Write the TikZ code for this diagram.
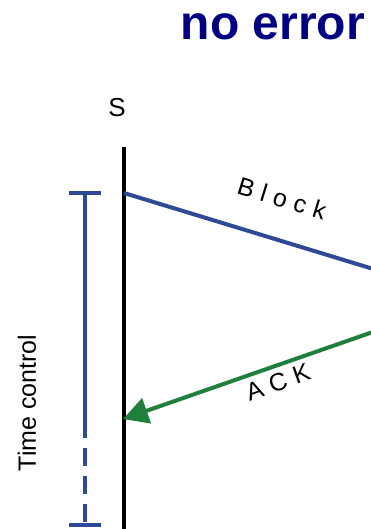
\documentclass[tikz,border=0pt]{standalone}
\usepackage{fontspec}
\setmainfont{Liberation Sans}
\usepackage{xcolor}
\usetikzlibrary{arrows.meta,positioning}
\definecolor{titlenavy}{RGB}{0,0,128}
\definecolor{blockblue}{RGB}{47,74,148}
\definecolor{ackgreen}{RGB}{30,128,60}
\tikzset{
  lifeline/.style={line width=4.8pt, black},
  blockline/.style={line width=4pt, blockblue},
  ackline/.style={line width=4pt, ackgreen, -{Triangle[length=25pt,width=26pt]}},
  timebar/.style={line width=4pt, blockblue},
  msglabel/.style={font=\fontsize{25}{27}\selectfont\addfontfeature{LetterSpace=30}, inner sep=0pt}
}

\begin{document}
\begin{tikzpicture}[x=1pt,y=-1pt]
  \useasboundingbox (0,0) rectangle (370,529);
  \node[font=\fontsize{48}{50}\selectfont\bfseries, text=titlenavy, anchor=base, inner sep=0pt] (title) at (273,40) {no error};
  \node[font=\fontsize{26}{28}\selectfont, inner sep=0pt] (sender) at (117,108) {S};
  % sender line
  \coordinate (stop) at (124,147);
  \coordinate (sbot) at (124,531);
  \draw[lifeline] (stop) -- (sbot);
  % block and ack
  \coordinate (bstart) at (124,193);
  \coordinate (bend) at (372,268.6);
  \coordinate (astart) at (372,332.3);
  \coordinate (aend) at (123,419);
  \draw[blockline] (bstart) -- (bend);
  \draw[ackline] (astart) -- (aend);
  \node[msglabel, rotate=-17] (blocklbl) at (282,198) {Block};
  \node[msglabel, rotate=19.5] (acklbl) at (278,382) {ACK};
  % time control
  \coordinate (ttop) at (85,193);
  \coordinate (tmid) at (85,438);
  \coordinate (tbot) at (85,525);
  \draw[timebar] (69,193) -- (101,193);
  \draw[timebar] (69,525) -- (101,525);
  \draw[timebar] (ttop) -- (tmid);
  \draw[timebar, dash pattern=on 18pt off 10pt, dash phase=-10pt] (tmid) -- (tbot);
  \node[font=\fontsize{25}{27}\selectfont, rotate=90, inner sep=0pt] (tclabel) at (27,403) {Time control};
\end{tikzpicture}
\end{document}
